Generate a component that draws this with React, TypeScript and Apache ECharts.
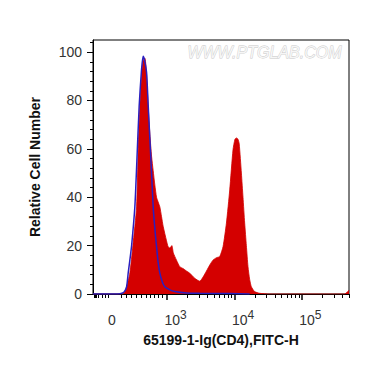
import React, { useEffect, useRef } from "react";
import * as echarts from "echarts";

// Display position on the (logicle-like) FITC-H axis, in decades: 3 = 10^3, 4 = 10^4, 5 = 10^5
const X_MIN = 1.9;
const X_MAX = 5.699;
const ZERO_POS = 2.181;

// Red filled histogram (65199-1 stained)
const redPos = [1.9, 2.225, 2.345, 2.388, 2.447, 2.492, 2.547, 2.571, 2.596, 2.62, 2.644, 2.67, 2.692, 2.719, 2.744, 2.769, 2.793, 2.818, 2.843, 2.867, 2.892, 2.917, 2.941, 2.991, 3.015, 3.04, 3.07, 3.092, 3.139, 3.188, 3.237, 3.287, 3.336, 3.41, 3.484, 3.533, 3.584, 3.633, 3.681, 3.732, 3.781, 3.83, 3.88, 3.929, 3.978, 4.007, 4.028, 4.052, 4.07, 4.102, 4.126, 4.151, 4.176, 4.2, 4.225, 4.25, 4.299, 4.373, 4.521, 5.633, 5.699];
const redVal = [0, 0, 0, 2, 8.7, 20, 36, 60, 78, 90, 96.5, 97.5, 92, 77.6, 66, 57, 51, 45, 40, 38, 36, 32, 28, 22, 19.5, 19, 20, 17, 14, 11.3, 10.5, 9.5, 8.6, 6.5, 5.3, 7, 9.5, 12, 14, 15, 15.5, 19.6, 29.3, 43, 59.7, 64, 64.5, 64, 62, 50, 40, 29.3, 20, 11.3, 6, 3, 1, 0.3, 0, 0, 1.5];

// Blue outline histogram (isotype control)
const bluePos = [1.9, 2.27, 2.329, 2.366, 2.399, 2.422, 2.447, 2.473, 2.521, 2.551, 2.585, 2.618, 2.644, 2.662, 2.695, 2.719, 2.744, 2.769, 2.793, 2.818, 2.843, 2.867, 2.892, 2.929, 2.966, 3.04, 3.114, 3.287, 3.484, 3.929, 4.225];
const blueVal = [0, 0, 0.3, 1, 3, 8.6, 14, 20, 36, 55, 77.6, 92, 98.3, 97, 91.5, 78, 64, 50, 36, 27, 19.6, 13, 8.6, 5, 3, 1.7, 1, 0.4, 0.3, 0.2, 0];

const xMajorTicks = [3, 4, 5];
const xLabelPos = [ZERO_POS, 3, 4, 5];
const xLabelExp = ["", "3", "4", "5"];
const xMinorTicks = [
  1.915, 1.93, 1.945, 1.985, 2.03, 2.075, 2.12,
  2.314, 2.388, 2.462, 2.536, 2.61, 2.684, 2.744, 2.803, 2.862, 2.921,
  3.301, 3.477, 3.602, 3.699, 3.778, 3.845, 3.903, 3.954,
  4.301, 4.477, 4.602, 4.699, 4.778, 4.845, 4.903, 4.954,
  5.301, 5.477, 5.602, 5.699,
];
const yMajorTicks = [0, 20, 40, 60, 80, 100];
const yMinorTicks = [4, 8, 12, 16, 24, 28, 32, 36, 44, 48, 52, 56, 64, 68, 72, 76, 84, 88, 92, 96, 104];

const pairs = (xs: number[], ys: number[]) => xs.map((x, i) => [x, ys[i]]);

export default function App() {
  const ref = useRef<HTMLDivElement>(null);
  useEffect(() => {
    if (!ref.current) return;
    const chart = echarts.init(ref.current, null, { renderer: "svg" });
    const font = "Liberation Sans, Arial, sans-serif";
    chart.setOption({
      animation: false,
      backgroundColor: "#fff",
      textStyle: { fontFamily: font },
      grid: {
        left: 93,
        top: 40,
        width: 256,
        height: 254,
        show: true,
        borderColor: "#000",
        borderWidth: 1,
        backgroundColor: "transparent",
      },
      graphic: [
        {
          type: "text",
          left: 187,
          top: 44,
          z: 1,
          style: {
            text: "WWW.PTGLAB.COM",
            fontSize: 16,
            fontStyle: "italic",
            fontFamily: font,
            fill: "#f6f6f6",
            stroke: "#c8c8c8",
            lineWidth: 0.8,
          },
        },
      ],
      xAxis: [
        {
          type: "value",
          min: X_MIN,
          max: X_MAX,
          position: "bottom",
          name: "65199-1-Ig(CD4),FITC-H",
          nameLocation: "middle",
          nameGap: 39,
          nameTextStyle: { fontSize: 14, fontWeight: "bold", color: "#111", fontFamily: font },
          axisLine: { show: true, lineStyle: { color: "#000", width: 1 } },
          axisTick: {
            show: true,
            customValues: xMajorTicks,
            length: 6,
            lineStyle: { color: "#000", width: 1.5 },
          },
          axisLabel: {
            show: true,
            customValues: xLabelPos,
            margin: 15,
            color: "#333",
            formatter: (v: number) => {
              const i = xLabelPos.findIndex((p) => Math.abs(p - v) < 1e-6);
              if (i <= 0) return "{z|0}";
              return "{b|10}{s|" + xLabelExp[i] + "}";
            },
            rich: {
              z: { fontSize: 14, lineHeight: 14, padding: [7, 0, 0, 0], color: "#333", fontFamily: font },
              b: { fontSize: 14, lineHeight: 14, padding: [7, 0, 0, 17], color: "#333", fontFamily: font },
              s: { fontSize: 12, lineHeight: 12, verticalAlign: "top", color: "#333", fontFamily: font },
            },
          },
          splitLine: { show: false },
        },
        {
          type: "value",
          min: X_MIN,
          max: X_MAX,
          position: "bottom",
          axisLine: { show: false },
          axisTick: {
            show: true,
            customValues: xMinorTicks,
            length: 4,
            lineStyle: { color: "#000", width: 1 },
          },
          axisLabel: { show: false },
          splitLine: { show: false },
        },
      ],
      yAxis: [
        {
          type: "value",
          min: 0,
          max: 105,
          name: "Relative Cell Number",
          nameLocation: "middle",
          nameGap: 51,
          nameTextStyle: { fontSize: 14, fontWeight: "bold", color: "#111", fontFamily: font },
          axisLine: { show: true, lineStyle: { color: "#000", width: 1 } },
          axisTick: {
            show: true,
            customValues: yMajorTicks,
            length: 6,
            lineStyle: { color: "#000", width: 1 },
          },
          axisLabel: {
            show: true,
            customValues: yMajorTicks,
            margin: 11,
            fontSize: 14,
            color: "#333",
            fontFamily: font,
          },
          splitLine: { show: false },
        },
        {
          type: "value",
          min: 0,
          max: 105,
          position: "left",
          axisLine: { show: false },
          axisTick: {
            show: true,
            customValues: yMinorTicks,
            length: 3,
            lineStyle: { color: "#000", width: 1 },
          },
          axisLabel: { show: false },
          splitLine: { show: false },
        },
      ],
      series: [
        {
          type: "line",
          xAxisIndex: 0,
          yAxisIndex: 0,
          data: pairs(redPos, redVal),
          showSymbol: false,
          smooth: 0.2,
          lineStyle: { color: "#d20000", width: 0.8 },
          areaStyle: { color: "#d40000", opacity: 1 },
          z: 2,
        },
        {
          type: "line",
          xAxisIndex: 0,
          yAxisIndex: 0,
          data: pairs(bluePos, blueVal),
          showSymbol: false,
          smooth: 0.2,
          lineStyle: { color: "#2a1fbf", width: 1.5 },
          z: 3,
        },
      ],
    });
    return () => chart.dispose();
  }, []);
  return (
    <div
      ref={ref}
      style={{ position: "fixed", left: 0, top: 0, width: 370, height: 367, background: "#fff" }}
    />
  );
}
